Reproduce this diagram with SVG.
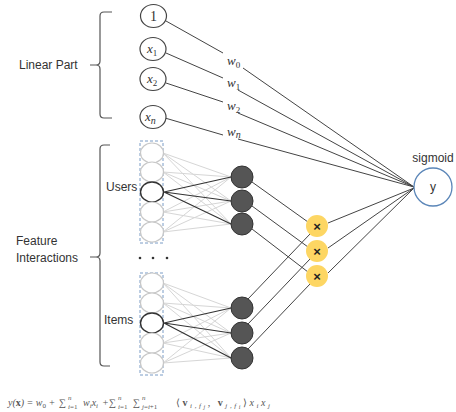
<svg xmlns="http://www.w3.org/2000/svg" width="456" height="412" viewBox="0 0 456 412">
<style>
.lbl{font-family:"Liberation Sans",Arial,sans-serif;font-size:12px;fill:#333}
.math{font-family:"Liberation Serif","Times New Roman",serif;font-style:italic;fill:#333}
.up{font-style:normal}
.fm{font-family:"Liberation Serif","Times New Roman",serif;font-style:italic;fill:#555;font-size:10px}
.fs{font-family:"Liberation Serif","Times New Roman",serif;font-style:italic;fill:#555;font-size:7px}
.lin{fill:#fff;stroke:#444;stroke-width:1.2}
.in{fill:#fff;stroke:#c8c8c8;stroke-width:1.2}
.inact{fill:#fff;stroke:#333;stroke-width:1.4}
.emb{fill:#555;stroke:#333;stroke-width:1}
.mul{fill:#fdd663}
.brace{fill:none;stroke:#555;stroke-width:1.2}
.box{fill:none;stroke:#7a9cc6;stroke-width:1;stroke-dasharray:3,2}
.c{stroke:#444;stroke-width:1;fill:none}
.g{stroke:#d6d6d6;stroke-width:1;fill:none}
.d{stroke:#333;stroke-width:1.2;fill:none}
</style>
<rect width="456" height="412" fill="#fff"/>
<g id="connectors">
  <g class="g">
    <path d="M163 153L231 177M163 153L231 201M163 153L231 224M163 172L231 177M163 172L231 201M163 172L231 224M163 212L231 177M163 212L231 201M163 212L231 224M163 232L231 177M163 232L231 201M163 232L231 224"/>
    <path d="M163 283L231 308M163 283L231 333M163 283L231 358M163 303L231 308M163 303L231 333M163 303L231 358M163 343L231 308M163 343L231 333M163 343L231 358M163 363L231 308M163 363L231 333M163 363L231 358"/>
  </g>
  <path class="d" d="M164 192L231 177M164 192L231 201M164 192L231 224M164 323L231 308M164 323L231 333M164 323L231 358"/>
  <path class="c" d="M166 21L223 53M243 68L414 187"/>
  <path class="c" d="M166 53L223 78M238 90L414 187"/>
  <path class="c" d="M166 83L223 102M238 113L414 187"/>
  <path class="c" d="M165 118L223 135M238 139L414 187"/>
  <path class="c" d="M252 182L308 222M252 206L308 247M252 229L308 272"/>
  <path class="c" d="M248 299L310 234M248 324L310 259M248 349L310 284"/>
  <path class="c" d="M328 223L414 188M328 248L414 188M328 273L414 188"/>
</g>
<g id="linear-brace">
  <path class="brace" d="M112 12H104Q100 12 100 16V61Q100 65 96 65H90M96 65Q100 65 100 69V114Q100 118 104 118H112"/>
  <text class="lbl" x="19" y="69">Linear Part</text>
</g>
<g id="feature-brace">
  <path class="brace" d="M110 145H104Q100 145 100 149V253Q100 257 96 257H90M96 257Q100 257 100 261V362Q100 366 104 366H110"/>
  <text class="lbl" x="16" y="245">Feature</text>
  <text class="lbl" x="16" y="262">Interactions</text>
</g>
<g id="n-one"><ellipse class="lin" cx="153.5" cy="16" rx="13" ry="11.5"/><text class="math up" x="153.5" y="21" font-size="14" text-anchor="middle">1</text></g>
<g id="n-x1"><ellipse class="lin" cx="153" cy="49" rx="13" ry="11.5"/><text class="math" x="147" y="53" font-size="13">x<tspan class="up" font-size="9" dy="3">1</tspan></text></g>
<g id="n-x2"><ellipse class="lin" cx="153" cy="79" rx="13" ry="11.5"/><text class="math" x="147" y="83" font-size="13">x<tspan class="up" font-size="9" dy="3">2</tspan></text></g>
<g id="n-xn"><ellipse class="lin" cx="153" cy="117" rx="13" ry="11.5"/><text class="math" x="145" y="121" font-size="13">x<tspan font-size="10" dy="3">n</tspan></text></g>
<g id="w-labels" class="math" font-size="13">
  <text x="227" y="65">w<tspan class="up" font-size="9" dy="3">0</tspan></text>
  <text x="227" y="87">w<tspan class="up" font-size="9" dy="3">1</tspan></text>
  <text x="227" y="110">w<tspan class="up" font-size="9" dy="3">2</tspan></text>
  <text x="227" y="136">w<tspan font-size="10" dy="2">n</tspan></text>
</g>
<g id="users">
  <rect class="box" x="140" y="141" width="23" height="102"/>
  <ellipse class="in" cx="152" cy="153" rx="11.5" ry="10"/>
  <ellipse class="in" cx="152" cy="172" rx="11.5" ry="10"/>
  <ellipse class="inact" cx="152" cy="192" rx="11.5" ry="10"/>
  <ellipse class="in" cx="152" cy="212" rx="11.5" ry="10"/>
  <ellipse class="in" cx="152" cy="232" rx="11.5" ry="10"/>
  <text class="lbl" x="106" y="191">Users</text>
</g>
<g id="dots" fill="#333">
  <circle cx="140" cy="258" r="1.3"/><circle cx="153" cy="258" r="1.3"/><circle cx="167" cy="258" r="1.3"/>
</g>
<g id="items">
  <rect class="box" x="140" y="273" width="23" height="102"/>
  <ellipse class="in" cx="152" cy="283" rx="11.5" ry="10"/>
  <ellipse class="in" cx="152" cy="303" rx="11.5" ry="10"/>
  <ellipse class="inact" cx="152" cy="323" rx="11.5" ry="10"/>
  <ellipse class="in" cx="152" cy="343" rx="11.5" ry="10"/>
  <ellipse class="in" cx="152" cy="363" rx="11.5" ry="10"/>
  <text class="lbl" x="104" y="324">Items</text>
</g>
<g id="user-emb">
  <circle class="emb" cx="242" cy="177" r="11"/>
  <circle class="emb" cx="242" cy="201" r="11"/>
  <circle class="emb" cx="242" cy="224" r="11"/>
</g>
<g id="item-emb">
  <circle class="emb" cx="242" cy="308" r="11"/>
  <circle class="emb" cx="242" cy="333" r="11"/>
  <circle class="emb" cx="242" cy="358" r="11"/>
</g>
<g id="products" font-family="Liberation Sans,Arial,sans-serif" font-size="13" font-weight="bold" fill="#222" text-anchor="middle">
  <circle class="mul" cx="317" cy="226" r="11"/><text x="317" y="231">×</text>
  <circle class="mul" cx="317" cy="251" r="11"/><text x="317" y="256">×</text>
  <circle class="mul" cx="317" cy="276" r="11"/><text x="317" y="281">×</text>
</g>
<g id="output">
  <circle cx="433" cy="187" r="19" fill="#fff" stroke="#5b86b8" stroke-width="1.3"/>
  <text class="lbl" x="433" y="191" text-anchor="middle">y</text>
  <text class="lbl" x="433" y="162" text-anchor="middle">sigmoid</text>
</g>
<g id="formula">
  <text class="fm" x="8" y="406">y(<tspan class="up" font-weight="bold">x</tspan>) = w<tspan class="up" font-size="7" dy="2">0</tspan><tspan dy="-2"> +</tspan></text>
  <text class="fm up" x="59" y="406">∑</text>
  <text class="fs" x="68" y="409">i<tspan class="up">=1</tspan></text>
  <text class="fs" x="68" y="400">n</text>
  <text class="fm" x="83" y="406">w<tspan font-size="7" dy="2">i</tspan><tspan dy="-2">x</tspan><tspan font-size="7" dy="2">i</tspan></text>
  <text class="fm up" x="102" y="406">+</text>
  <text class="fm up" x="109" y="406">∑</text>
  <text class="fs" x="118" y="409">i<tspan class="up">=1</tspan></text>
  <text class="fs" x="118" y="400">n</text>
  <text class="fm up" x="133" y="406">∑</text>
  <text class="fs" x="142" y="409">j<tspan class="up">=</tspan>i<tspan class="up">+1</tspan></text>
  <text class="fs" x="142" y="400">n</text>
  <text class="fm" x="176" y="406" textLength="94" lengthAdjust="spacing"><tspan class="up">⟨</tspan><tspan class="up" font-weight="bold">v</tspan><tspan font-size="7" dy="2">i,f</tspan><tspan font-size="6" dy="1">j</tspan><tspan dy="-3">, </tspan><tspan class="up" font-weight="bold">v</tspan><tspan font-size="7" dy="2">j,f</tspan><tspan font-size="6" dy="1">i</tspan><tspan class="up" dy="-3">⟩</tspan>x<tspan font-size="7" dy="2">i</tspan><tspan dy="-2">x</tspan><tspan font-size="7" dy="2">j</tspan></text>
</g>
</svg>
